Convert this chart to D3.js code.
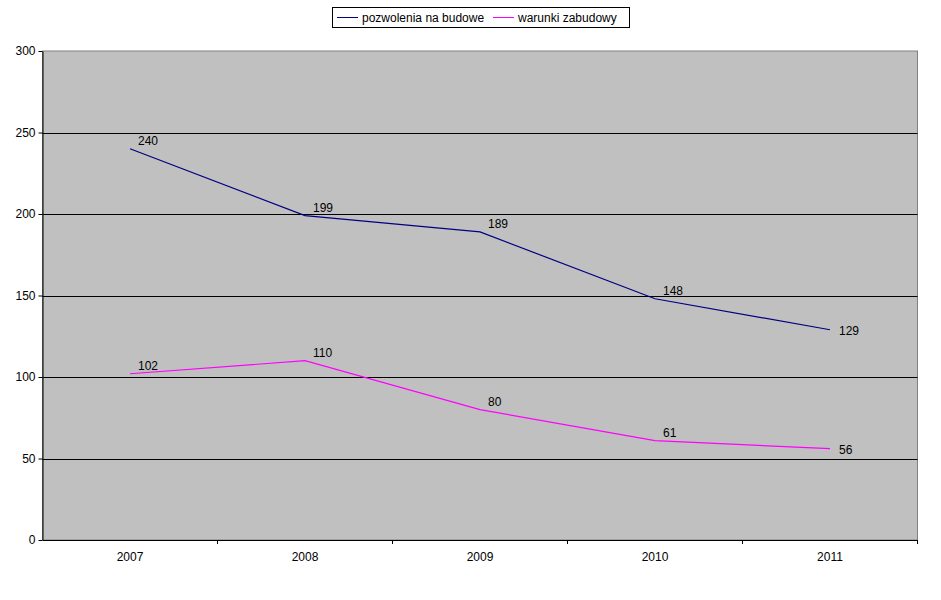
<!DOCTYPE html>
<html><head><meta charset="utf-8">
<script src="https://cdn.jsdelivr.net/npm/d3@7"></script>
<style>body{margin:0;background:#fff}text{font-family:"Liberation Sans",Arial,sans-serif;font-size:12px}</style>
</head><body><svg id="c" width="941" height="600"></svg>
<script>
const categories=["2007","2008","2009","2010","2011"];
const pozwolenia=[240,199,189,148,129];
const warunki=[102,110,80,61,56];
const yTicks=[0,50,100,150,200,250,300];
const seriesNames=["pozwolenia na budowe","warunki zabudowy"];
const colors=["#000080","#ff00ff"];

const svg=d3.select("#c");
const L=42.5,R=917.5,T=51,B=540;
const x=d3.scaleBand().domain(categories).range([L,R]);
const y=d3.scaleLinear().domain([0,300]).range([B,T]);
svg.append("rect").attr("x",L).attr("y",T).attr("width",R-L).attr("height",B-T).attr("fill","#c0c0c0").attr("stroke","#808080");
yTicks.forEach(t=>{ if(t>0&&t<300) svg.append("line").attr("x1",L).attr("x2",R).attr("y1",Math.round(y(t))+.5).attr("y2",Math.round(y(t))+.5).attr("stroke","#000");});
const ya=svg.append("g").attr("transform",`translate(${L},0)`).call(d3.axisLeft(y).tickValues(yTicks).tickSize(4).tickSizeOuter(0));
const xa=svg.append("g").attr("transform",`translate(0,${B})`).call(d3.axisBottom(x).tickSize(0).tickSizeOuter(0).tickPadding(12));
[ya,xa].forEach(a=>{a.selectAll("path,line").attr("stroke","#000");a.selectAll("text").attr("fill","#000").style("font-size","12px");});
xa.selectAll(".tick").append("line").attr("x1",x.bandwidth()/2).attr("x2",x.bandwidth()/2).attr("y1",0).attr("y2",4).attr("stroke","#000");
const line=d3.line().x((d,i)=>x(categories[i])+x.bandwidth()/2).y(d=>y(d));
[pozwolenia,warunki].forEach((s,k)=>{
  svg.append("path").datum(s).attr("d",line).attr("fill","none").attr("stroke",colors[k]).attr("stroke-width",1.2);
  s.forEach((v,i)=>{
    const last=i===s.length-1;
    svg.append("text").attr("x",x(categories[i])+x.bandwidth()/2+(last?9:8)).attr("y",y(v)+(last?5:-4)).text(v).attr("fill","#000");
  });
});
const lg=svg.append("g");
lg.append("rect").attr("x",332.5).attr("y",7.5).attr("width",297).attr("height",20).attr("fill","#fff").attr("stroke","#000");
seriesNames.forEach((n,k)=>{
  const ox=k?493:337;
  lg.append("line").attr("x1",ox).attr("x2",ox+21).attr("y1",17.5).attr("y2",17.5).attr("stroke",colors[k]);
  lg.append("text").attr("x",ox+25).attr("y",22).text(n);
});
</script></body></html>
